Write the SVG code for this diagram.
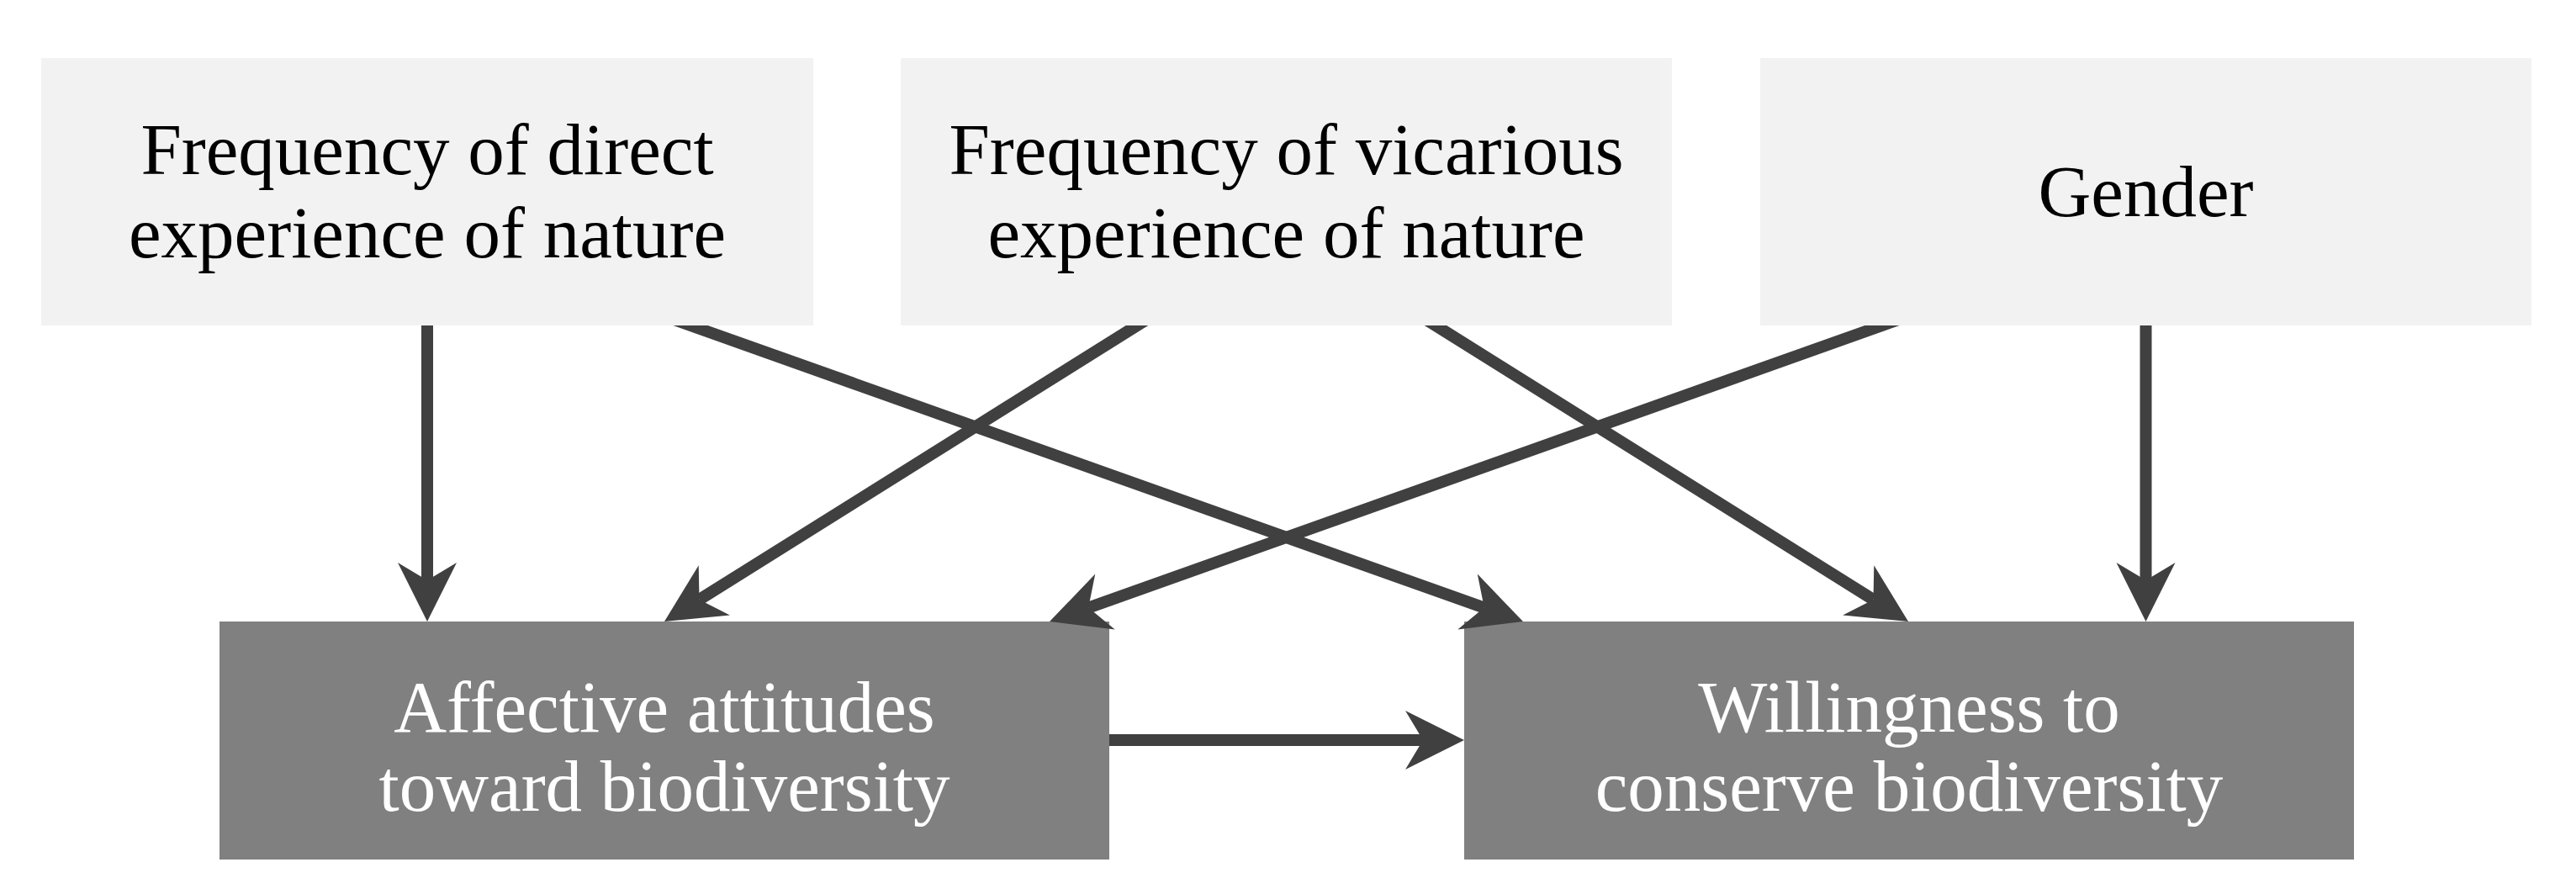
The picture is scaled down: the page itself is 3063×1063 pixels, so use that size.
<svg xmlns="http://www.w3.org/2000/svg" width="3063" height="1063" viewBox="0 0 3063 1063">
<style>
.top{fill:#f2f2f2}
.bot{fill:#808080}
.t{font-family:"Liberation Serif","Times New Roman",serif;font-size:87px;text-anchor:middle}
.tk{fill:#000}
.tw{fill:#fff}
.c{stroke:#404040;stroke-width:14;fill:none;marker-end:url(#ah)}
</style>
<defs>
<marker id="ah" markerUnits="userSpaceOnUse" markerWidth="90" markerHeight="90" viewBox="-80 -45 90 90" refX="-49" refY="0" orient="auto" overflow="visible">
<path d="M0,0 L-70,-35 L-49,0 L-70,35 Z" fill="#404040"/>
</marker>
</defs>
<rect width="3063" height="1063" fill="#fff"/>
<g id="node-affective">
<rect class="bot" x="261" y="739" width="1058" height="283"/>
<text class="t tw" x="790" y="869.5">Affective attitudes</text>
<text class="t tw" x="790" y="964">toward biodiversity</text>
</g>
<g id="node-willingness">
<rect class="bot" x="1741" y="739" width="1058" height="283"/>
<text class="t tw" x="2270" y="869.5">Willingness to</text>
<text class="t tw" x="2270" y="964">conserve biodiversity</text>
</g>
<g id="connectors">
<line class="c" x1="508" y1="377" x2="508" y2="690"/>
<line class="c" x1="792.9" y1="377" x2="1764.8" y2="722.6"/>
<line class="c" x1="1368" y1="377" x2="831.5" y2="713"/>
<line class="c" x1="1691" y1="377" x2="2227.5" y2="713"/>
<line class="c" x1="2266.1" y1="377" x2="1294.2" y2="722.6"/>
<line class="c" x1="2551.5" y1="377" x2="2551.5" y2="690"/>
<line class="c" x1="1319" y1="880" x2="1692" y2="880"/>
</g>
<g id="node-direct">
<rect class="top" x="49" y="69" width="918" height="318"/>
<text class="t tk" x="508" y="207">Frequency of direct</text>
<text class="t tk" x="508" y="306">experience of nature</text>
</g>
<g id="node-vicarious">
<rect class="top" x="1071" y="69" width="917" height="318"/>
<text class="t tk" x="1529.5" y="207">Frequency of vicarious</text>
<text class="t tk" x="1529.5" y="306">experience of nature</text>
</g>
<g id="node-gender">
<rect class="top" x="2093" y="69" width="917" height="318"/>
<text class="t tk" x="2551.5" y="257">Gender</text>
</g>
</svg>
